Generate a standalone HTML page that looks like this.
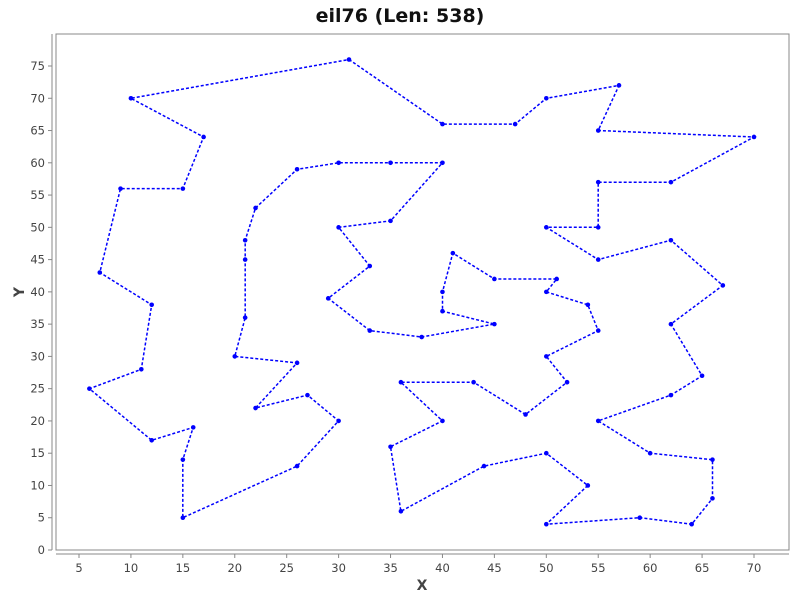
<!DOCTYPE html>
<html><head><meta charset="utf-8"><style>
body{margin:0;background:#fff;}
svg text{font-family:"DejaVu Sans","Liberation Sans",sans-serif;}
</style></head><body>
<svg id="chart" width="800" height="600" xmlns="http://www.w3.org/2000/svg">
<text x="400" y="22" text-anchor="middle" font-size="19" font-weight="bold" fill="#111">eil76 (Len: 538)</text>
<rect x="56" y="34" width="733" height="516" fill="#fff" stroke="#888" stroke-width="1"/>
<g id="axes"></g>
<path id="tour" fill="none" stroke="#0000ff" stroke-width="1.5" stroke-dasharray="3,2"/>
<g id="pts"></g>
<text x="422" y="590" text-anchor="middle" font-size="14" font-weight="bold" fill="#444">X</text>
<text x="24" y="292" text-anchor="middle" font-size="14" font-weight="bold" fill="#444" transform="rotate(-90 24 292)">Y</text>
</svg>
<script>
const tourX=[31,40,47,50,57,55,70,62,55,55,50,55,62,67,62,65,62,55,60,66,66,64,59,50,54,50,44,36,35,40,36,43,48,52,50,55,54,50,51,45,41,40,40,45,38,33,29,33,30,35,40,35,30,26,22,21,21,21,20,26,22,27,30,26,15,15,16,12,6,11,12,7,9,15,17,10];
const tourY=[76,66,66,70,72,65,64,57,57,50,50,45,48,41,35,27,24,20,15,14,8,4,5,4,10,15,13,6,16,20,26,26,21,26,30,34,38,40,42,42,46,40,37,35,33,34,39,44,50,51,60,60,60,59,53,48,45,36,30,29,22,24,20,13,5,14,19,17,25,28,38,43,56,56,64,70];
const xTicks=[5,10,15,20,25,30,35,40,45,50,55,60,65,70];
const yTicks=[0,5,10,15,20,25,30,35,40,45,50,55,60,65,70,75];
const sx=v=>79+(v-5)*(754-79)/65;
const sy=v=>550-v*(550-66)/75;
const NS="http://www.w3.org/2000/svg";
const ax=document.getElementById('axes');
function mk(t,a,p){const e=document.createElementNS(NS,t);for(const k in a)e.setAttribute(k,a[k]);p.appendChild(e);return e;}
const xl=mk('line',{x1:56,y1:554,x2:789,y2:554,stroke:'#888'},ax);


const yl=mk('line',{x1:52,y1:34,x2:52,y2:550,stroke:'#888'},ax);


xTicks.forEach(v=>{const x=sx(v);
 mk('line',{x1:x,y1:554,x2:x,y2:558,stroke:'#888'},ax);
 const t=mk('text',{x:x,y:572,'text-anchor':'middle','font-size':11.5,fill:'#444'},ax);t.textContent=v;
 
 });
yTicks.forEach(v=>{const y=sy(v);
 mk('line',{x1:48,y1:y,x2:52,y2:y,stroke:'#888'},ax);
 const t=mk('text',{x:45,y:y+4,'text-anchor':'end','font-size':11.5,fill:'#444'},ax);t.textContent=v;
 
 });
let d='';tourX.forEach((v,i)=>{d+=(i?'L':'M')+sx(v).toFixed(1)+' '+sy(tourY[i]).toFixed(1);});d+='Z';
document.getElementById('tour').setAttribute('d',d);
const pg=document.getElementById('pts');
tourX.forEach((v,i)=>{const c=mk('circle',{cx:sx(v),cy:sy(tourY[i]),r:2.3,fill:'#0000ff'},pg);
 
 });
</script>
</body></html>
